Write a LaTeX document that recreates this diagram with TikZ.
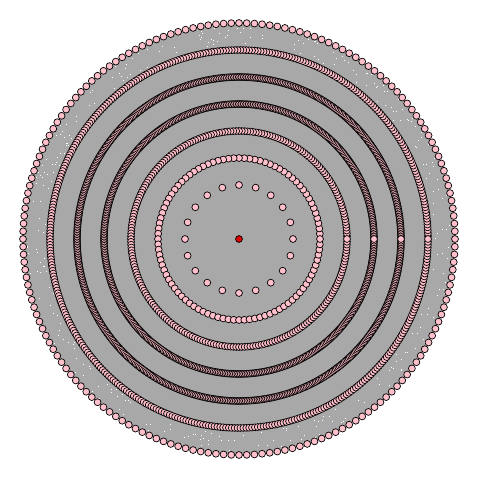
\documentclass[tikz,border=0pt]{standalone}
\definecolor{edgegray}{RGB}{168,168,168}
\definecolor{nodepink}{RGB}{255,192,203}
\definecolor{centerred}{RGB}{220,0,0}
\begin{document}
\begin{tikzpicture}[x=0.025cm,y=0.025cm,
  dot/.style={circle,draw=black,fill=nodepink,line width=0.5pt,inner sep=0pt,minimum size=4.9pt},
  centerdot/.style={dot,fill=centerred}]
\useasboundingbox (-239,-241) rectangle (241,239);
\fill[edgegray] (0,0) circle (216);
\pgfmathsetseed{7}
\foreach \i in {1,...,300}{
  \pgfmathsetmacro\ang{rnd*360}
  \pgfmathsetmacro\rad{194+rnd*19}
  \fill[white] (\ang:\rad) rectangle ++(1,1);
}
\foreach \n/\r/\k in {20/54/1, 96/81/2, 240/108/3, 500/135/4, 600/162/5, 410/189/6, 176/216/7}{
  \pgfmathsetmacro\step{360/\n}
  \foreach \i in {1,...,\n}{
    \node[dot] (s\k-\i) at ({\step*\i}:\r) {};
  }
}
\node[centerdot] (c) at (0,0) {};
\end{tikzpicture}
\end{document}
